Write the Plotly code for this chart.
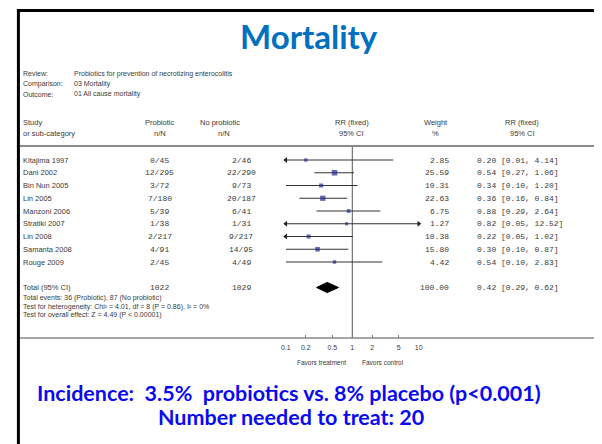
import plotly.graph_objects as go

# page body adds an 8px margin; the figure is sized to fill the rest of the window
OFF = 8
W, H = 602 - OFF, 444 - OFF

# ---------------- data ----------------
studies = ["Kitajima 1997", "Dani 2002", "Bin Nun 2005", "Lin 2005", "Manzoni 2006",
           "Stratiki 2007", "Lin 2008", "Samanta 2008", "Rouge 2009"]
prob_nN = ["0/45", "12/295", "3/72", "7/180", "5/39", "1/38", "2/217", "4/91", "2/45"]
noprob_nN = ["2/46", "22/290", "9/73", "20/187", "6/41", "1/31", "9/217", "14/95", "4/49"]
weights = [2.85, 25.59, 10.31, 22.63, 6.75, 1.27, 10.38, 15.80, 4.42]
rr = [0.20, 0.54, 0.34, 0.36, 0.88, 0.82, 0.22, 0.30, 0.54]
ci_lo = [0.01, 0.27, 0.10, 0.16, 0.29, 0.05, 0.05, 0.10, 0.10]
ci_hi = [4.14, 1.06, 1.20, 0.84, 2.64, 12.52, 1.02, 0.87, 2.83]

total_label = "Total (95% CI)"
total_prob_N = "1022"
total_noprob_N = "1029"
total_weight = 100.00
total_rr = 0.42
total_lo = 0.29
total_hi = 0.62

footer_lines = [
    "Total events: 36 (Probiotic), 87 (No probiotic)",
    "Test for heterogeneity: Chi² = 4.01, df = 8 (P = 0.86), I² = 0%",
    "Test for overall effect: Z = 4.49 (P < 0.00001)",
]
tick_vals = [0.1, 0.2, 0.5, 1, 2, 5, 10]
tick_text = ["0.1", "0.2", "0.5", "1", "2", "5", "10"]
x_min, x_max = 0.1, 10

# ---------------- layout helpers (reference-window pixels) ----------------
ROW0, ROWH = 160.0, 12.75          # window pixel y of first row, row height


def px(x):
    return (x - OFF) / W


def py(y):
    return 1 - (y - OFF) / H


def row_of(pix):
    return (pix - ROW0) / ROWH


SANS = "Liberation Sans"
MONO = "Liberation Mono"
TXT = "#3a3a3a"
MS = 8

fig = go.Figure()

n = len(studies)
total_row = n + 1

# reference line at RR = 1
fig.add_trace(go.Scatter(x=[1, 1], y=[row_of(147), row_of(338)], mode="lines",
                         line=dict(color="#555555", width=1), hoverinfo="skip",
                         showlegend=False))

# CI lines and arrows
for i in range(n):
    x0 = max(ci_lo[i], x_min)
    x1 = min(ci_hi[i], x_max)
    fig.add_trace(go.Scatter(x=[x0, x1], y=[i, i], mode="lines",
                             line=dict(color="#333333", width=1), showlegend=False,
                             hoverinfo="skip"))
    if ci_lo[i] < x_min:
        fig.add_trace(go.Scatter(x=[x_min], y=[i], mode="markers", cliponaxis=False,
                                 marker=dict(symbol="triangle-left", size=5, color="#222222"),
                                 showlegend=False, hoverinfo="skip"))
    if ci_hi[i] > x_max:
        fig.add_trace(go.Scatter(x=[x_max], y=[i], mode="markers", cliponaxis=False,
                                 marker=dict(symbol="triangle-right", size=5, color="#222222"),
                                 showlegend=False, hoverinfo="skip"))

# point estimates
fig.add_trace(go.Scatter(x=rr, y=list(range(n)), mode="markers", cliponaxis=False,
                         marker=dict(symbol="square", color="#1f2a8c",
                                     size=[3 + 0.1 * w for w in weights],
                                     line=dict(width=0)),
                         showlegend=False, hoverinfo="skip"))

# total diamond
fig.add_trace(go.Scatter(x=[total_lo, total_rr, total_hi, total_rr, total_lo],
                         y=[total_row, total_row - 0.4, total_row, total_row + 0.4, total_row],
                         mode="lines", fill="toself", fillcolor="#000000",
                         line=dict(color="#000000", width=1), showlegend=False,
                         hoverinfo="skip"))

annotations = []


def txt(x, y, s, size=7.5, family=SANS, color=TXT, xanchor="left", yref="paper"):
    annotations.append(dict(x=x, y=y, xref="paper", yref=yref, text=s,
                            showarrow=False, xanchor=xanchor, yanchor="middle",
                            font=dict(size=size, family=family, color=color)))


# header block
for yy, a, b in [(74, "Review:", "Probiotics for prevention of necrotizing enterocolitis"),
                 (84, "Comparison:", "03 Mortality"),
                 (94, "Outcome:", "01 All cause mortality")]:
    txt(px(16), py(yy), a, size=7)
    txt(px(68), py(yy), b, size=7)

txt(px(16), py(122), "Study")
txt(px(16), py(133), "or sub-category")
txt(px(157), py(122), "Probiotic", xanchor="center")
txt(px(157), py(133), "n/N", xanchor="center")
txt(px(218), py(122), "No probiotic", xanchor="center")
txt(px(222), py(133), "n/N", xanchor="center")
txt(px(352), py(122), "RR (fixed)", xanchor="center")
txt(px(352), py(133), "95% CI", xanchor="center")
txt(px(437), py(122), "Weight", xanchor="center")
txt(px(437), py(133), "%", xanchor="center")
txt(px(525), py(122), "RR (fixed)", xanchor="center")
txt(px(525), py(133), "95% CI", xanchor="center")

# study rows
for i in range(n):
    txt(px(16), i, studies[i], yref="y")
    txt(px(157), i, prob_nN[i], family=MONO, size=MS, xanchor="center", yref="y")
    txt(px(240), i, noprob_nN[i], family=MONO, size=MS, xanchor="center", yref="y")
    txt(px(453), i, f"{weights[i]:.2f}", family=MONO, size=MS, xanchor="right", yref="y")
    txt(px(477), i, f"{rr[i]:.2f} [{ci_lo[i]:.2f}, {ci_hi[i]:.2f}]", family=MONO,
        size=MS, yref="y")

# total row
txt(px(16), total_row, total_label, yref="y")
txt(px(157), total_row, total_prob_N, family=MONO, size=MS, xanchor="center", yref="y")
txt(px(240), total_row, total_noprob_N, family=MONO, size=MS, xanchor="center", yref="y")
txt(px(453), total_row, f"{total_weight:.2f}", family=MONO, size=MS, xanchor="right", yref="y")
txt(px(477), total_row, f"{total_rr:.2f} [{total_lo:.2f}, {total_hi:.2f}]", family=MONO,
    size=MS, yref="y")

for k, line in enumerate(footer_lines):
    txt(px(16), py(298 + 8.5 * k), line, size=7)

txt(px(348), py(362), "Favors treatment", xanchor="right", size=6.5)
txt(px(360), py(362), "Favors control", xanchor="left", size=6.5)

# slide title and bottom text
annotations.append(dict(x=px(309), y=py(36), xref="paper", yref="paper",
                        text="<b>Mortality</b>", showarrow=False, xanchor="center",
                        yanchor="middle",
                        font=dict(size=33, family="Lato", color="#0070C0")))
annotations.append(dict(x=px(288), y=py(393), xref="paper", yref="paper",
                        text="<b>Incidence:  3.5%  probiotics vs. 8% placebo (p<0.001)</b>",
                        showarrow=False, xanchor="center", yanchor="middle",
                        font=dict(size=21.5, family="Lato", color="#0a0af0")))
annotations.append(dict(x=px(290), y=py(417), xref="paper", yref="paper",
                        text="<b>Number needed to treat: 20</b>",
                        showarrow=False, xanchor="center", yanchor="middle",
                        font=dict(size=21.5, family="Lato", color="#0a0af0")))

shapes = [
    # header separator and axis line
    dict(type="line", xref="paper", yref="paper", x0=px(15), x1=px(598),
         y0=py(146), y1=py(146), line=dict(color="#8a8a8a", width=2)),
    dict(type="line", xref="paper", yref="paper", x0=px(15), x1=px(598),
         y0=py(338), y1=py(338), line=dict(color="#8a8a8a", width=1.5)),
    # slide border
    dict(type="line", xref="paper", yref="paper", x0=px(13.5), x1=px(13.5),
         y0=py(9), y1=py(446), line=dict(color="#000000", width=3)),
    dict(type="line", xref="paper", yref="paper", x0=px(12), x1=px(601),
         y0=py(10.5), y1=py(10.5), line=dict(color="#000000", width=3)),
    dict(type="line", xref="paper", yref="paper", x0=px(600), x1=px(600),
         y0=py(9), y1=py(446), line=dict(color="#000000", width=2)),
]

fig.update_layout(
    width=W, height=H, margin=dict(l=0, r=0, t=0, b=0),
    paper_bgcolor="white", plot_bgcolor="rgba(0,0,0,0)",
    showlegend=False, annotations=annotations, shapes=shapes,
    xaxis=dict(type="log", range=[-1, 1], domain=[px(285), px(420)],
               anchor="free", position=py(338), tickvals=tick_vals, ticktext=tick_text,
               ticks="inside", ticklen=3, tickcolor="#777777", showgrid=False,
               zeroline=False, showline=False, ticklabelstandoff=4,
               tickfont=dict(size=7, family=SANS, color=TXT)),
    yaxis=dict(range=[(H + OFF - ROW0) / ROWH, (OFF - ROW0) / ROWH], domain=[0, 1],
               visible=False, showgrid=False, zeroline=False),
)

fig.write_html("out.html")
